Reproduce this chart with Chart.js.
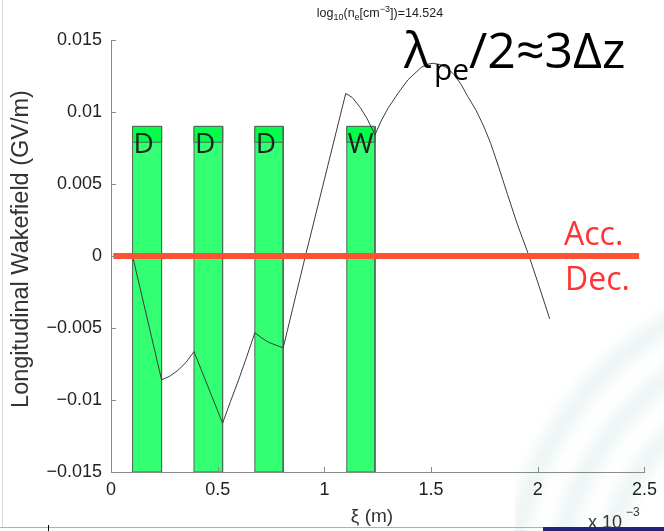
<!DOCTYPE html>
<html>
<head>
<meta charset="utf-8">
<script src="https://cdn.jsdelivr.net/npm/chart.js@4"></script>
<style>
  body { margin: 0; background: #fff; }
  canvas { display: block; }
</style>
</head>
<body>
<canvas id="wake" width="664" height="531"></canvas>
<script>
// xi in units of 1e-3 m, field in GV/m
const xiTicks = [0, 0.5, 1, 1.5, 2, 2.5];
const fieldTicks = [-0.015, -0.01, -0.005, 0, 0.005, 0.01, 0.015];

// bunch slices (drive bunches D and witness W)
const bunchNames = ['D', 'D', 'D', 'W'];
const bunchStart = [0.101, 0.389, 0.674, 1.105];
const bunchEnd = [0.237, 0.523, 0.807, 1.237];
const bunchLow = -0.015;
const bunchHigh = 0.009;
const bunchHead = 0.0079;

// on-axis longitudinal wakefield
const wakeXi = [
  0.101, 0.237, 0.275, 0.313, 0.352, 0.389,
  0.523, 0.560, 0.598, 0.636, 0.674,
  0.707, 0.740, 0.774, 0.807, 0.911,
  1.100, 1.131, 1.1685, 1.201, 1.237,
  1.266, 1.299, 1.3455, 1.392, 1.454, 1.485, 1.508, 1.541, 1.578, 1.606,
  1.640, 1.671, 1.710, 1.746, 1.780, 1.816, 1.858, 1.904, 1.959, 2.007, 2.056];
const wakeField = [
  0, -0.0086, -0.00835, -0.00795, -0.00738, -0.00664,
  -0.01161, -0.0101, -0.0086, -0.0070, -0.00533,
  -0.0057, -0.0060, -0.0062, -0.00637, 0,
  0.01129, 0.0110, 0.0103, 0.00952, 0.00841,
  0.00938, 0.01028, 0.01131, 0.01224, 0.0131, 0.01332, 0.01338, 0.0133, 0.01303, 0.01262,
  0.01193, 0.0111, 0.01014, 0.00903, 0.00779, 0.00621, 0.00428, 0.00221, 0, -0.00214, -0.00437];

// zero line separating accelerating / decelerating phase
const zeroXi = [0.011, 2.475];
const zeroField = [0, 0];

const tickFont = {family: '"Liberation Sans", Arial, sans-serif', size: 18};

function box(x0, x1, y0, y1) {
  return [{x: x0, y: y0}, {x: x0, y: y1}, {x: x1, y: y1}, {x: x1, y: y0}, {x: x0, y: y0}];
}

const datasets = [];
datasets.push({
  data: zeroXi.map((x, i) => ({x: x, y: zeroField[i]})),
  showLine: true, borderColor: '#ff5234', borderWidth: 6, borderCapStyle: 'butt',
  pointRadius: 0, order: 0
});
datasets.push({
  data: wakeXi.map((x, i) => ({x: x, y: wakeField[i]})),
  showLine: true, borderColor: '#3c3c3c', borderWidth: 1, pointRadius: 0, order: 1
});
bunchStart.forEach((s, i) => {
  datasets.push({
    data: box(s, bunchEnd[i], bunchHead, bunchHigh),
    showLine: true, fill: 'shape', backgroundColor: '#00ff4a',
    borderColor: '#4d6b55', borderWidth: 1, pointRadius: 0, order: 2
  });
  datasets.push({
    data: box(s, bunchEnd[i], bunchLow, bunchHigh),
    showLine: true, fill: 'shape', backgroundColor: '#33ff73',
    borderColor: '#4d6b55', borderWidth: 1, pointRadius: 0, order: 3
  });
});

function fmt(v) {
  const s = String(parseFloat(v.toFixed(4)));
  return s.replace('-', '\u2212');
}

// slide background bits: edges and faint logo swirl
const backdrop = {
  id: 'backdrop',
  beforeDraw(chart) {
    const c = chart.ctx;
    c.save();
    c.fillStyle = '#fff';
    c.fillRect(0, 0, chart.width, chart.height);
    c.beginPath();
    c.rect(515, 280, 149, 251);
    c.clip();
    c.filter = 'blur(8px)';
    c.lineWidth = 16;
    c.strokeStyle = 'rgba(150,198,196,0.22)';
    [230, 275, 320].forEach(r => {
      c.beginPath();
      c.arc(830, 600, r, Math.PI * 1.0, Math.PI * 1.5);
      c.stroke();
    });
    c.restore();
    c.save();
    c.fillStyle = '#d8d8d8';
    c.fillRect(2, 0, 1, 527);
    c.fillStyle = '#b0b0b0';
    c.fillRect(0, 527, 543, 1);
    c.fillStyle = '#23237a';
    c.fillRect(543, 527, 121, 4);
    c.fillStyle = '#000';
    c.fillRect(48, 525, 1, 6);
    c.restore();
  }
};

const annotations = {
  id: 'annotations',
  afterDatasetsDraw(chart) {
    const c = chart.ctx;
    const xs = chart.scales.x, ys = chart.scales.y;
    const area = chart.chartArea;
    c.save();

    // inward tick marks
    c.strokeStyle = '#8a8a8a';
    c.lineWidth = 1;
    ys.ticks.forEach(t => {
      const y = Math.round(ys.getPixelForValue(t.value)) + 0.5;
      c.beginPath(); c.moveTo(area.left, y); c.lineTo(area.left + 5, y); c.stroke();
    });
    xs.ticks.forEach(t => {
      const x = Math.round(xs.getPixelForValue(t.value)) + 0.5;
      c.beginPath(); c.moveTo(x, area.bottom); c.lineTo(x, area.bottom - 5); c.stroke();
    });

    // bunch labels
    c.fillStyle = '#222';
    c.font = '28px "Open Sans"';
    c.textAlign = 'left';
    c.textBaseline = 'alphabetic';
    bunchNames.forEach((n, i) => {
      c.fillText(n, xs.getPixelForValue(bunchStart[i]) + 1, ys.getPixelForValue(bunchHigh) + 27);
    });

    // phase labels
    c.fillStyle = '#ff3333';
    c.font = '32px "Open Sans"';
    c.fillText('Acc.', 564, 245);
    c.fillText('Dec.', 565, 290);

    // wavelength note
    c.fillStyle = '#000';
    c.font = '50px "Open Sans"';
    c.fillText('\u03bb', 404, 68);
    c.font = '30px "Open Sans"';
    c.fillText('pe', 434, 80);
    c.font = '50px "Open Sans"';
    c.fillText('/2\u22483\u0394z', 469, 68);

    // title with sub/superscripts
    const parts = [['log', 0], ['10', 1], ['(n', 0], ['e', 1], ['[cm', 0], ['\u22123', -1], ['])=14.524', 0]];
    const fontFor = k => k === 0 ? '12.5px "Liberation Sans"' : '9px "Liberation Sans"';
    let w = 0;
    parts.forEach(p => { c.font = fontFor(p[1]); w += c.measureText(p[0]).width; });
    let x = 380 - w / 2;
    c.fillStyle = '#222';
    parts.forEach(p => {
      c.font = fontFor(p[1]);
      const dy = p[1] === 1 ? 3 : (p[1] === -1 ? -5 : 0);
      c.fillText(p[0], x, 17 + dy);
      x += c.measureText(p[0]).width;
    });

    // axis titles
    c.fillStyle = '#333';
    c.font = '19px "Liberation Sans"';
    c.textAlign = 'center';
    c.fillText('\u03be (m)', 372, 522);
    c.save();
    c.font = '23.5px "Liberation Sans"';
    c.translate(28, 249);
    c.rotate(-Math.PI / 2);
    c.fillText('Longitudinal Wakefield (GV/m)', 0, 0);
    c.restore();

    // exponent of the xi axis
    c.textAlign = 'left';
    c.font = '18px "Liberation Sans"';
    c.fillText('x 10', 588, 528);
    c.font = '12px "Liberation Sans"';
    c.fillText('\u22123', 626, 516);
    c.restore();
  }
};

new Chart(document.getElementById('wake'), {
  type: 'scatter',
  data: {datasets: datasets},
  options: {
    responsive: false,
    animation: false,
    devicePixelRatio: 1,
    layout: {padding: {top: 40, right: 16, left: 0, bottom: 0}},
    plugins: {legend: {display: false}, tooltip: {enabled: false}},
    scales: {
      x: {
        type: 'linear', min: 0, max: 2.5,
        afterFit: s => { s.height = 59; },
        afterBuildTicks: s => { s.ticks = xiTicks.map(v => ({value: v})); },
        ticks: {font: tickFont, color: '#222', padding: 7, maxRotation: 0, callback: fmt},
        grid: {drawOnChartArea: false, drawTicks: false},
        border: {color: '#8a8a8a'}
      },
      y: {
        type: 'linear', min: -0.015, max: 0.015,
        afterFit: s => { s.width = 111; },
        afterBuildTicks: s => { s.ticks = fieldTicks.map(v => ({value: v})); },
        ticks: {font: tickFont, color: '#222', padding: 9, callback: fmt},
        grid: {drawOnChartArea: false, drawTicks: false},
        border: {color: '#8a8a8a'}
      }
    }
  },
  plugins: [backdrop, annotations]
});
</script>
</body>
</html>
